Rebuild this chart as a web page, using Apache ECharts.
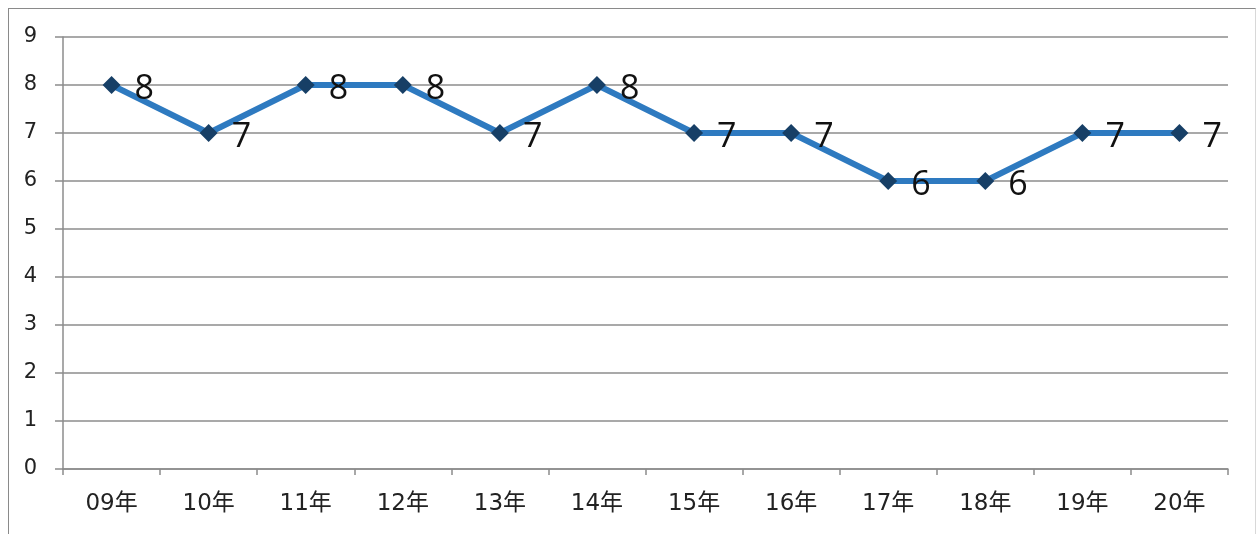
<!DOCTYPE html>
<html>
<head>
<meta charset="utf-8">
<script src="https://cdn.jsdelivr.net/npm/echarts@6/dist/echarts.min.js"></script>
<style>
  html, body { margin: 0; padding: 0; background: #fff; }
  #frame { position: absolute; left: 8px; top: 8px; width: 1246px; height: 540px;
           border-top: 1.5px solid #8a8a8a; border-left: 1.5px solid #8a8a8a; border-right: 1px solid #d8d8d8; }
  #main { position: absolute; left: 0; top: 0; width: 1257px; height: 534px; }
</style>
</head>
<body>
<div id="frame"></div>
<div id="main"></div>
<script>
// 年度ごとの値
var years = ['09年', '10年', '11年', '12年', '13年', '14年', '15年', '16年', '17年', '18年', '19年', '20年'];
var values = [8, 7, 8, 8, 7, 8, 7, 7, 6, 6, 7, 7];

var chart = echarts.init(document.getElementById('main'));

var option = {
  animation: false,
  grid: { left: 63, right: 29, top: 37, bottom: 65 },
  xAxis: {
    type: 'category',
    data: years,
    boundaryGap: true,
    axisLine: { lineStyle: { color: '#8c8c8c', width: 1.5 } },
    axisTick: { show: true, length: 6, alignWithLabel: false, lineStyle: { color: '#8c8c8c', width: 1.5 } },
    axisLabel: {
      color: '#222',
      fontSize: 23,
      margin: 24,
      fontFamily: '"DejaVu Sans", "Noto Sans CJK JP", sans-serif'
    }
  },
  yAxis: {
    type: 'value',
    min: 0,
    max: 9,
    interval: 1,
    axisLine: { show: true, lineStyle: { color: '#8c8c8c', width: 1.5 } },
    axisTick: { show: true, length: 8, lineStyle: { color: '#8c8c8c', width: 1.5 } },
    axisLabel: {
      color: '#222',
      fontSize: 21,
      margin: 26,
      fontFamily: '"DejaVu Sans", sans-serif'
    },
    splitLine: { lineStyle: { color: '#8c8c8c', width: 1.5 } }
  },
  series: [
    {
      type: 'line',
      data: values,
      symbol: 'diamond',
      symbolSize: 18,
      lineStyle: { color: '#2e7ac0', width: 6 },
      itemStyle: { color: '#173f66' },
      label: {
        show: true,
        position: 'right',
        distance: 14,
        offset: [0, 4],
        color: '#111',
        fontSize: 34,
        fontFamily: '"Open Sans", sans-serif'
      }
    }
  ]
};

chart.setOption(option);
</script>
</body>
</html>
